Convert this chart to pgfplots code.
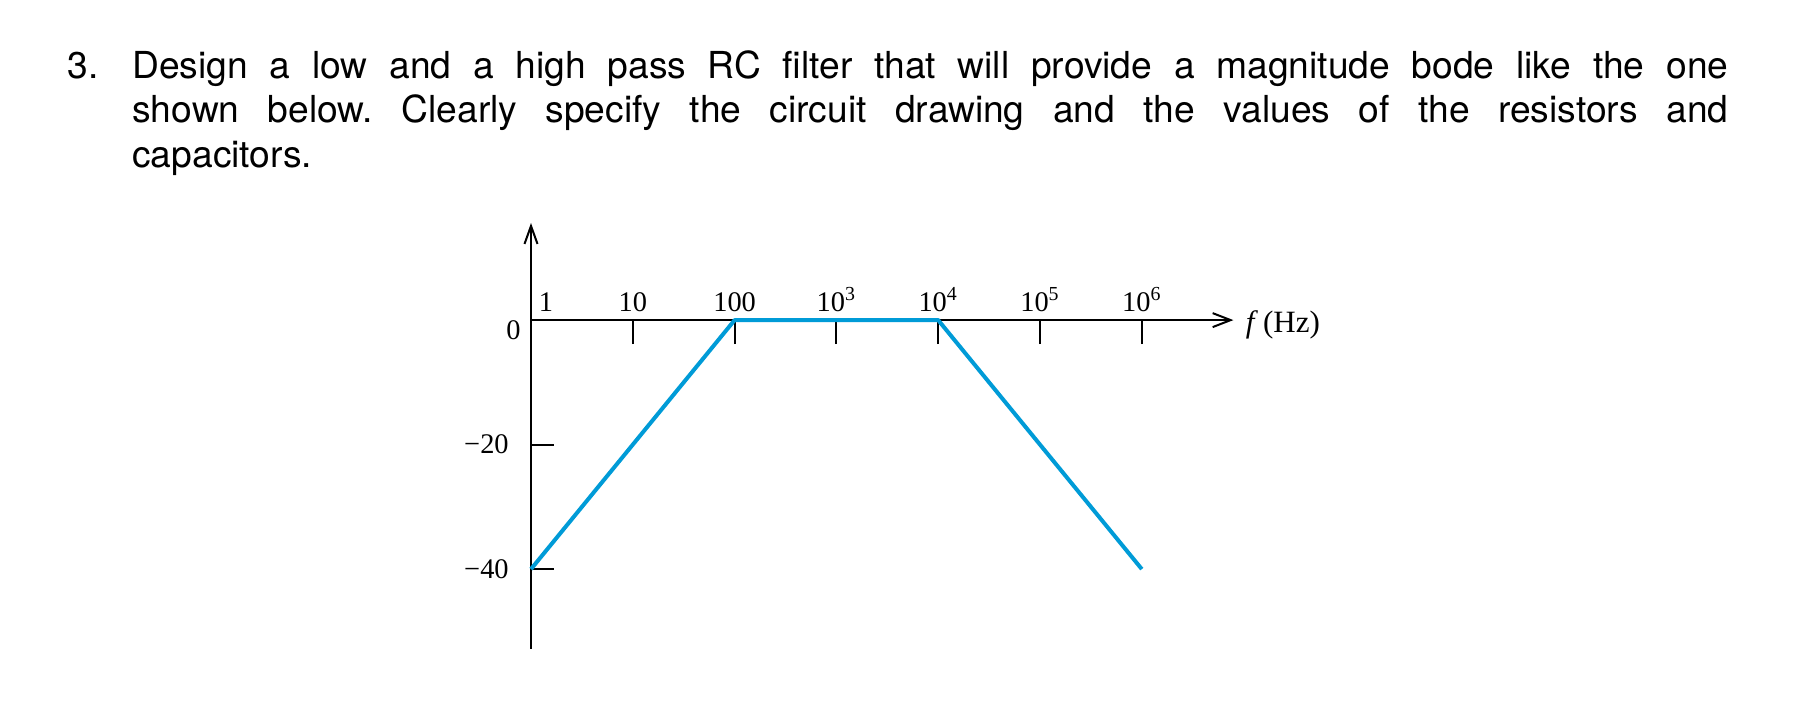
\documentclass[border=0pt]{standalone}
\usepackage{fontspec}
\setmainfont{Liberation Serif}
\newfontfamily\helv{TeX Gyre Heros}
\usepackage{pgfplots}
\pgfplotsset{compat=1.18}
\usetikzlibrary{arrows.meta}
\definecolor{bodeblue}{RGB}{0,155,215}
\frenchspacing
\begin{document}
\begin{tikzpicture}
\path[use as bounding box] (0,0) rectangle (899bp,361bp);
\tikzset{qtext/.style={anchor=base west, inner sep=0pt, font=\helv\fontsize{18.6bp}{22bp}\selectfont}}
\node[qtext] at (33.5bp,321.8bp) {3.};
\node[qtext] at (66bp,321.8bp) {\makebox[798bp][s]{Design a low and a high pass RC filter that will provide a magnitude bode like the one}};
\node[qtext] at (66bp,299.5bp) {\makebox[798bp][s]{shown below. Clearly specify the circuit drawing and the values of the resistors and}};
\node[qtext] at (66bp,277.2bp) {capacitors.};
\begin{axis}[
  at={(265.5bp,36.6bp)}, anchor=south west,
  scale only axis, width=351.2bp, height=212.9bp,
  xmode=log, log basis x=10,
  xmin=1, xmax=7943282, ymin=-52.8, ymax=15.6,
  axis x line=middle, axis y line=left,
  clip=false,
  x axis line style={line width=1bp, -{Straight Barb[length=9bp,width=7bp]}},
  y axis line style={line width=1bp, -{Straight Barb[length=9bp,width=6.5bp]}},
  tick align=center,
  major tick length=12bp,
  xtick style={line width=1bp, black, yshift=-6bp},
  ytick style={line width=1bp, black, xshift=5.5bp},
  xtick={10,100,1000,10000,100000,1000000},
  xticklabels={10,100,10\textsuperscript{3},10\textsuperscript{4},10\textsuperscript{5},10\textsuperscript{6}},
  xticklabel style={anchor=base, inner sep=0pt, yshift=10.5bp, font=\fontsize{14.2bp}{17bp}\selectfont},
  extra x ticks={1},
  extra x tick labels={1},
  extra x tick style={major tick length=0pt, xticklabel style={xshift=7.5bp, yshift=-6bp}},
  ytick={-40,-20},
  yticklabels={−40,−20},
  yticklabel style={anchor=east, inner sep=0pt, xshift=-5bp, font=\fontsize{14.2bp}{17bp}\selectfont},
  extra y ticks={0},
  extra y tick labels={0},
  extra y tick style={major tick length=0pt, yticklabel style={yshift=-5bp}},
  xlabel={\textit{f}\,(Hz)},
  xlabel style={at={(axis cs:7943282,0)}, anchor=base west, inner sep=0pt, xshift=6bp, yshift=-6bp, font=\fontsize{15.5bp}{18bp}\selectfont},
]
\addplot[bodeblue, line width=2bp, line join=round] coordinates {(1,-40) (100,0) (10000,0) (1000000,-40)};
\end{axis}
\end{tikzpicture}
\end{document}
